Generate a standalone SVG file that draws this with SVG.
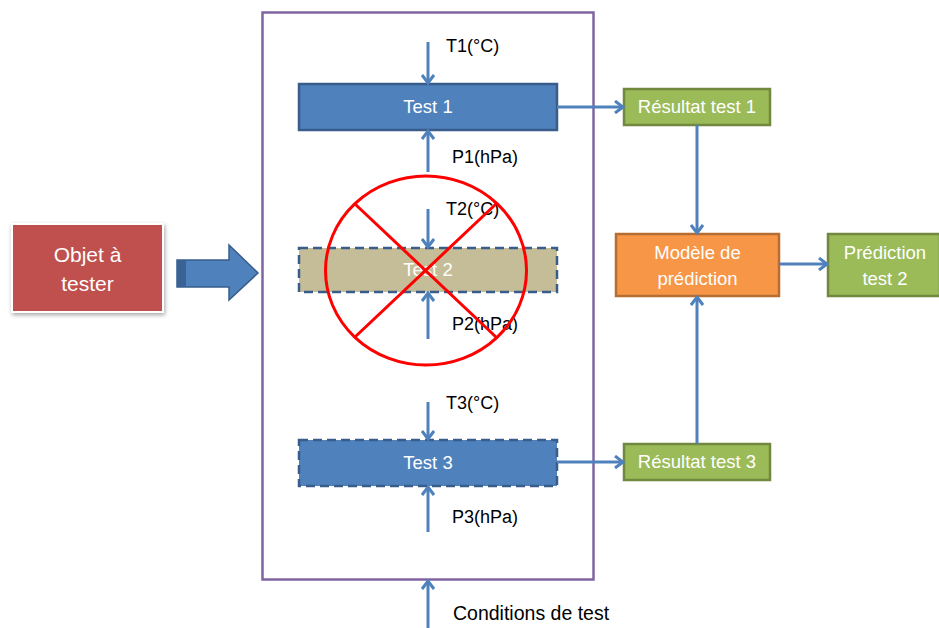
<svg xmlns="http://www.w3.org/2000/svg" width="939" height="628" viewBox="0 0 939 628">
<defs>
<style>
text{font-family:"Liberation Sans",Arial,sans-serif;font-size:18px}
.w{fill:#ffffff;font-size:18.5px}
.big{font-size:21px}
.k{fill:#000000}
.cond{font-size:19.5px}
.c{stroke:#4f81bd;stroke-width:3;fill:none;marker-end:url(#ah)}
.blue{fill:#4f81bd;stroke:#385d8a;stroke-width:2.5}
.green{fill:#9bbb59;stroke:#71893f;stroke-width:2.5}
.dash{stroke-dasharray:9 5}
</style>
<marker id="ah" markerWidth="12" markerHeight="14" refX="10" refY="7" orient="auto" markerUnits="userSpaceOnUse">
<polyline points="2,1 10,7 2,13" fill="none" stroke="#4f81bd" stroke-width="3"/>
</marker>
<filter id="sh" x="-10%" y="-10%" width="125%" height="130%">
<feDropShadow dx="1" dy="2" stdDeviation="2" flood-color="#000" flood-opacity="0.35"/>
</filter>
</defs>
<rect width="939" height="628" fill="#ffffff"/>

<g id="frame">
<rect x="262.5" y="12.5" width="331" height="567" fill="none" stroke="#8064a2" stroke-width="2.5"/>
</g>

<g id="objet">
<rect x="11" y="223" width="153" height="90" fill="#ffffff" filter="url(#sh)"/>
<rect x="13" y="225" width="149" height="86" fill="#c0504d"/>
<text class="w big" x="87.5" y="262" text-anchor="middle">Objet à</text>
<text class="w big" x="87.5" y="291" text-anchor="middle">tester</text>
</g>

<g id="bigarrow">
<path d="M177,260 H229 V245 L258,273 L229,300 V287 H177 Z" fill="#4f81bd" stroke="#385d8a" stroke-width="1.5"/>
<rect x="177" y="260" width="9" height="27" fill="#3a6395"/>
</g>

<g id="test1">
<rect class="blue" x="299" y="84" width="258" height="46"/>
<text class="w" x="428" y="113" text-anchor="middle">Test 1</text>
</g>

<g id="test2">
<rect x="299" y="248" width="258" height="44" fill="#c4bd97" stroke="#385d8a" stroke-width="2.5" class="dash"/>
<text class="w" x="428" y="276" text-anchor="middle">Test 2</text>
</g>

<g id="test3">
<rect class="blue dash" x="299" y="440" width="258" height="46"/>
<text class="w" x="428" y="469" text-anchor="middle">Test 3</text>
</g>

<g id="res1">
<rect class="green" x="624" y="89" width="146" height="36"/>
<text class="w" x="697" y="113" text-anchor="middle">Résultat test 1</text>
</g>

<g id="res3">
<rect class="green" x="624" y="444" width="146" height="36"/>
<text class="w" x="697" y="468" text-anchor="middle">Résultat test 3</text>
</g>

<g id="modele">
<rect x="616" y="234" width="163" height="62" fill="#f79646" stroke="#b66d31" stroke-width="2.5"/>
<text class="w" x="697.5" y="259" text-anchor="middle">Modèle de</text>
<text class="w" x="697.5" y="285" text-anchor="middle">prédiction</text>
</g>

<g id="prediction">
<rect class="green" x="828" y="234" width="112" height="62"/>
<text class="w" x="885" y="259" text-anchor="middle">Prédiction</text>
<text class="w" x="885" y="285" text-anchor="middle">test 2</text>
</g>

<g id="labels">
<text class="k" x="446" y="52">T1(°C)</text>
<text class="k" x="452" y="163">P1(hPa)</text>
<text class="k" x="446" y="215">T2(°C)</text>
<text class="k" x="452" y="330">P2(hPa)</text>
<text class="k" x="446" y="409">T3(°C)</text>
<text class="k" x="452" y="523">P3(hPa)</text>
<text class="k cond" x="453" y="620">Conditions de test</text>
</g>

<g id="connectors">
<line class="c" x1="428" y1="42" x2="428" y2="83"/>
<line class="c" x1="428" y1="172" x2="428" y2="131"/>
<line class="c" x1="428" y1="209" x2="428" y2="247"/>
<line class="c" x1="428" y1="339" x2="428" y2="293"/>
<line class="c" x1="428" y1="402" x2="428" y2="439"/>
<line class="c" x1="428" y1="532" x2="428" y2="487"/>
<line class="c" x1="428" y1="628" x2="428" y2="581"/>
<line class="c" x1="557" y1="107" x2="623" y2="107"/>
<line class="c" x1="557" y1="462" x2="623" y2="462"/>
<line class="c" x1="697" y1="125" x2="697" y2="233"/>
<line class="c" x1="697" y1="444" x2="697" y2="297"/>
<line class="c" x1="779" y1="264" x2="827" y2="264"/>
</g>

<g id="cross">
<ellipse cx="426" cy="270.5" rx="100.5" ry="94.5" fill="none" stroke="#ff0000" stroke-width="3"/>
<line x1="355" y1="204" x2="496" y2="337" stroke="#ff0000" stroke-width="3"/>
<line x1="355" y1="337" x2="497" y2="203" stroke="#ff0000" stroke-width="3"/>
</g>
</svg>
